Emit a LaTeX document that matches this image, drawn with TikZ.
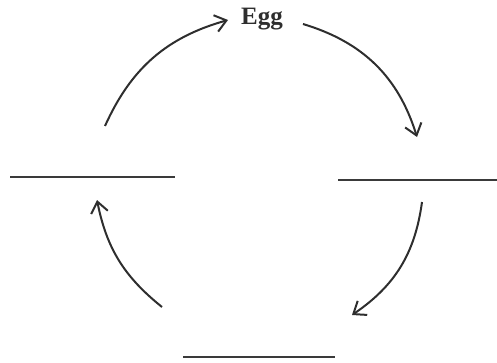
\documentclass[tikz,border=0pt]{standalone}
\usepackage{fontspec}
\setmainfont{Liberation Serif}
\usepackage{xcolor}
\usetikzlibrary{arrows.meta}
\definecolor{cycleink}{HTML}{2E2E2E}
\definecolor{blankink}{HTML}{3A3A3A}

\begin{document}
\begin{tikzpicture}[
  x=1pt,
  y=1pt,
  every node/.style={font=\fontsize{25}{28}\selectfont\bfseries, text=cycleink},
  stage arrow/.style={cycleink, line width=2pt,
    -{Straight Barb[length=11pt,width=17pt,line width=2pt]}},
  blank/.style={blankink, line width=1.5pt}
]
  \useasboundingbox (0,0) rectangle (497,362);

  \node (egg) at (262,343) {Egg};

  % free ends of the cycle arrows
  \coordinate (a1s) at (105,236);
  \coordinate (a1e) at (228,342);
  \coordinate (a2s) at (303,338);
  \coordinate (a2e) at (417,225);
  \coordinate (a3s) at (422,160);
  \coordinate (a3e) at (352,47);
  \coordinate (a4s) at (162,55);
  \coordinate (a4e) at (97,162);

  \draw[stage arrow] (a1s) to[bend left=25] (a1e);
  \draw[stage arrow] (a2s) to[bend left=28] (a2e);
  \draw[stage arrow] (a3s) to[bend left=24] (a3e);
  \draw[stage arrow] (a4s) to[bend left=20] (a4e);

  % blanks to fill in
  \draw[blank] (10,185) -- (175,185);
  \draw[blank] (338,182) -- (497,182);
  \draw[blank] (183,5) -- (335,5);
\end{tikzpicture}
\end{document}
